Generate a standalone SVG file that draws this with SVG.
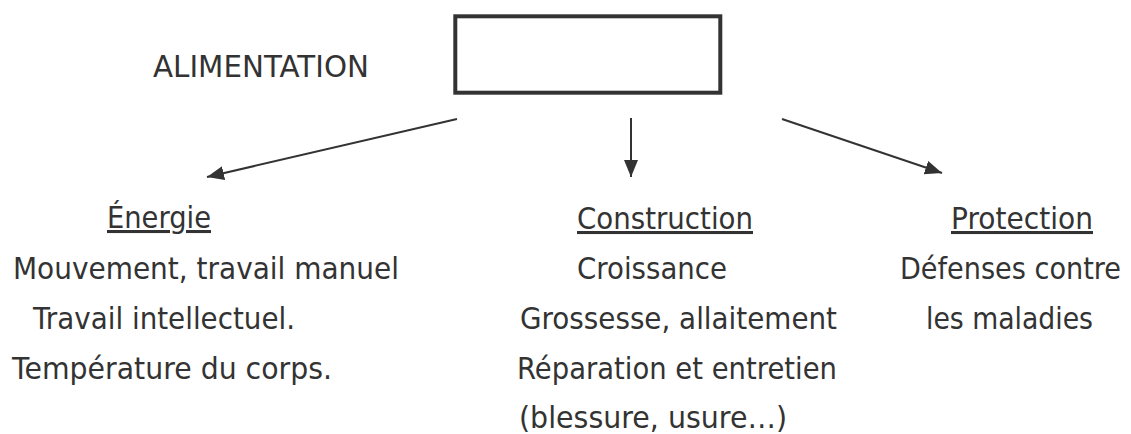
<svg xmlns="http://www.w3.org/2000/svg" width="1131" height="434" viewBox="0 0 1131 434">
<defs>
<style>
text{font-family:"DejaVu Sans","Liberation Sans",sans-serif;font-size:30.5px;fill:#333;}
.u{text-decoration:underline;}
.c{stroke:#333;stroke-width:2;fill:none;}
</style>
<marker id="ah" markerUnits="userSpaceOnUse" markerWidth="18" markerHeight="16" refX="17" refY="7" orient="auto"><path d="M0,0 L17,7 L0,14 z" fill="#333"/></marker>
</defs>
<rect width="1131" height="434" fill="#fff"/>
<g id="label-alimentation"><text x="153" y="77" textLength="216" lengthAdjust="spacingAndGlyphs">ALIMENTATION</text></g>
<g id="box"><rect x="455.3" y="16.3" width="265" height="76.4" fill="#fff" stroke="#333" stroke-width="4"/></g>
<g id="connectors">
<line class="c" x1="457" y1="119" x2="207" y2="177" marker-end="url(#ah)"/>
<line class="c" x1="631" y1="118" x2="631" y2="177" marker-end="url(#ah)"/>
<line class="c" x1="782" y1="119" x2="942" y2="173" marker-end="url(#ah)"/>
</g>
<g id="energie">
<text class="u" x="107" y="228" textLength="104" lengthAdjust="spacingAndGlyphs">Énergie</text>
<text x="13" y="279" textLength="386" lengthAdjust="spacingAndGlyphs">Mouvement, travail manuel</text>
<text x="33" y="329" textLength="262" lengthAdjust="spacingAndGlyphs">Travail intellectuel.</text>
<text x="12" y="379" textLength="320" lengthAdjust="spacingAndGlyphs">Température du corps.</text>
</g>
<g id="construction">
<text class="u" x="577" y="229" textLength="176" lengthAdjust="spacingAndGlyphs">Construction</text>
<text x="577" y="279" textLength="150" lengthAdjust="spacingAndGlyphs">Croissance</text>
<text x="520" y="329" textLength="317" lengthAdjust="spacingAndGlyphs">Grossesse, allaitement</text>
<text x="517" y="379" textLength="320" lengthAdjust="spacingAndGlyphs">Réparation et entretien</text>
<text x="519" y="428" textLength="268" lengthAdjust="spacingAndGlyphs">(blessure, usure…)</text>
</g>
<g id="protection">
<text class="u" x="951" y="229" textLength="142" lengthAdjust="spacingAndGlyphs">Protection</text>
<text x="900" y="279" textLength="221" lengthAdjust="spacingAndGlyphs">Défenses contre</text>
<text x="926" y="329" textLength="167" lengthAdjust="spacingAndGlyphs">les maladies</text>
</g>
</svg>
